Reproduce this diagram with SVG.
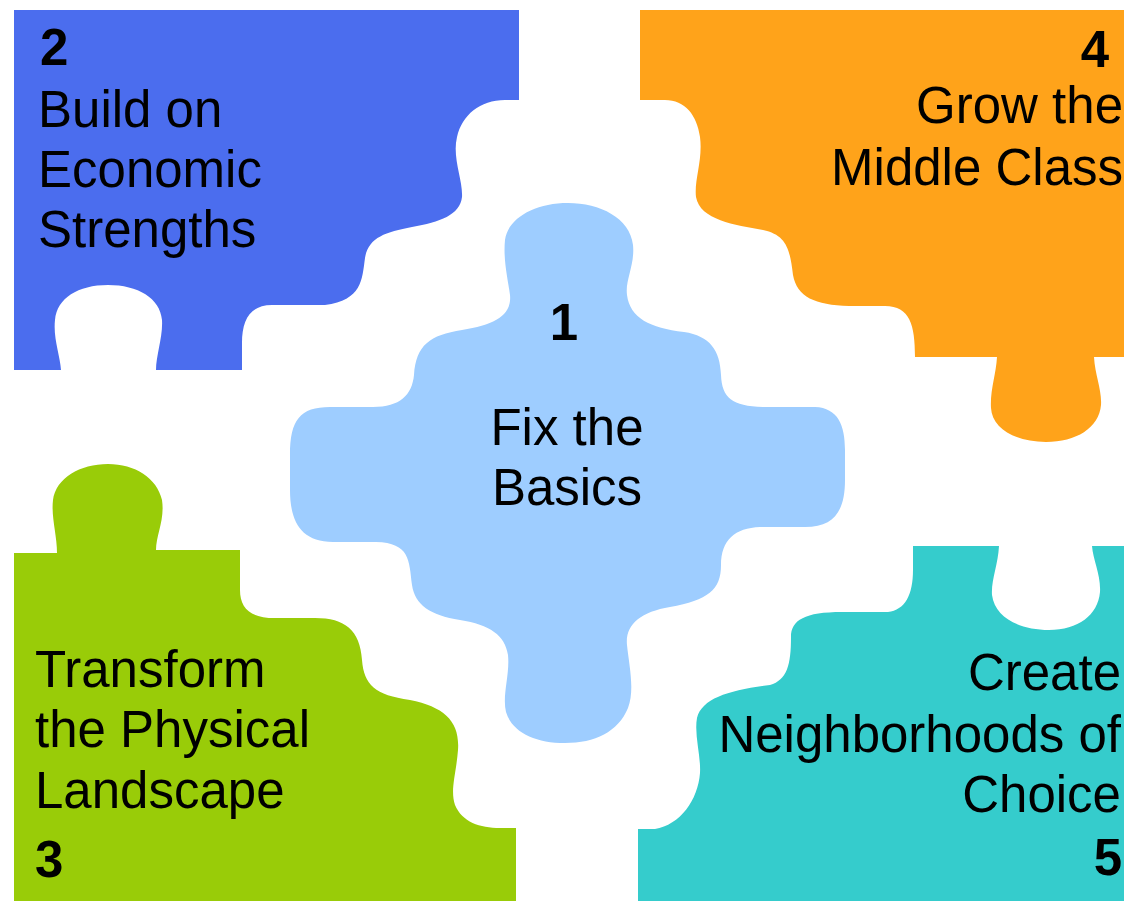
<svg xmlns="http://www.w3.org/2000/svg" width="1124" height="901" viewBox="0 0 1124 901">
<style>
text{font-family:"Liberation Sans",Arial,sans-serif;font-size:51px;fill:#000}
.b{font-weight:bold}
.m{text-anchor:middle}
.e{text-anchor:end}
</style>
<rect width="1124" height="901" fill="#fff"/>
<g id="piece2">
<path fill="#4B6DEE" d="M14,10 H519 V100 H505 C480,100 462,115 457,137 C452,158 463,180 462,197 C460,215 440,222 412,227 C385,232 368,238 365,258 C362,280 362,300 325,305 H272 C250,305 242,320 242,343 V370 H156 C156,355 163,337 162,320 C160,298 138,285 108,285 C78,285 57,298 55,320 C53,338 60,355 61,370 H14 Z"/>
<text class="b" x="40" y="65">2</text>
<text x="38" y="127">Build on</text>
<text x="38" y="187">Economic</text>
<text x="38" y="247">Strengths</text>
</g>
<g id="piece4">
<path fill="#FFA31A" d="M640,10 H1124 V357 H1094 C1095,375 1102,390 1101,405 C1099,428 1076,442 1046,442 C1015,442 992,428 991,408 C990,390 996,375 997,357 H915 C915,325 910,306 885,306 H849 C815,305 797,297 793,275 C790,250 787,235 763,230 C735,225 700,220 696,197 C694,180 703,160 700,137 C697,115 685,100 665,100 H640 Z"/>
<text class="b e" x="1109" y="67">4</text>
<text class="e" x="1123" y="123">Grow the</text>
<text class="e" x="1123" y="185">Middle Class</text>
</g>
<g id="piece3">
<path fill="#99CC08" d="M14,901 V553 H57 C57,535 51,517 53,500 C56,478 80,464 108,464 C135,464 157,478 162,500 C165,520 156,535 156,550 H240 V590 C240,608 250,618 275,618 H315 C345,618 360,630 362,660 C364,685 375,695 410,700 C445,707 460,722 458,750 C456,775 450,790 455,805 C462,822 480,828 500,828 H516 V901 Z"/>
<text x="35" y="687">Transform</text>
<text x="35" y="747">the Physical</text>
<text x="35" y="808">Landscape</text>
<text class="b" x="35" y="877">3</text>
</g>
<g id="piece5">
<path fill="#35CCCC" d="M638,901 V829 H655 C680,825 698,800 700,773 C701,755 694,735 697,718 C702,698 730,690 770,685 C787,680 791,665 791,637 C791,620 805,612 842,612 H888 C905,610 913,595 913,570 V546 H999 C998,565 991,580 992,595 C995,618 1020,630 1049,630 C1078,630 1098,615 1100,592 C1101,575 1093,560 1092,546 H1124 V901 Z"/>
<text class="e" x="1121" y="690">Create</text>
<text class="e" x="1121" y="752">Neighborhoods of</text>
<text class="e" x="1121" y="812">Choice</text>
<text class="b e" x="1122" y="875">5</text>
</g>
<g id="piece1">
<path fill="#9ECDFF" d="M568,203 C600,203 630,218 633,245 C635,265 625,280 627,295 C630,318 650,328 684,332 C710,336 720,350 721,375 C722,398 732,406 763,407 H815 C838,408 845,425 845,450 V480 C845,510 835,527 805,527 H760 C735,528 721,540 721,565 C721,590 708,600 670,607 C640,612 625,625 627,645 C629,665 635,690 628,708 C618,732 595,743 565,743 C535,743 512,732 506,712 C502,695 510,675 508,655 C505,635 490,625 460,620 C430,615 415,605 412,585 C409,560 410,543 376,542 H333 C300,542 290,520 290,490 V455 C290,420 300,407 330,407 H373 C400,407 412,395 414,375 C416,345 430,335 462,330 C495,325 512,315 510,295 C508,280 503,260 505,240 C508,218 535,203 568,203 Z"/>
<text class="b m" x="564" y="340">1</text>
<text class="m" x="567" y="445">Fix the</text>
<text class="m" x="567" y="505">Basics</text>
</g>
</svg>
